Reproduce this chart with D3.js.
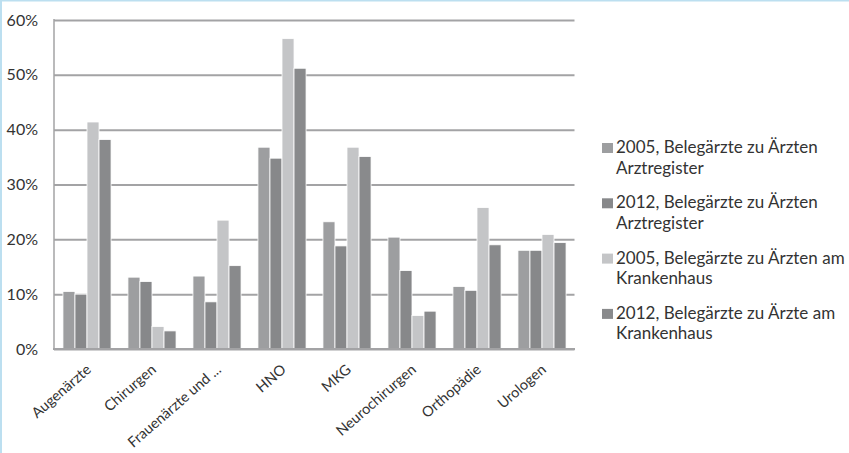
<!DOCTYPE html>
<html><head><meta charset="utf-8">
<script src="https://cdn.jsdelivr.net/npm/d3@7"></script>
<style>
html,body{margin:0;padding:0;background:#fff;}
svg{display:block;}
text{font-family:Lato,"Open Sans",sans-serif;fill:#333;}
</style></head>
<body>
<script>
const categories = ["Augenärzte","Chirurgen","Frauenärzte und ...","HNO","MKG","Neurochirurgen","Orthopädie","Urologen"];
const series = ["2005, Belegärzte zu Ärzten Arztregister","2012, Belegärzte zu Ärzten Arztregister","2005, Belegärzte zu Ärzten am Krankenhaus","2012, Belegärzte zu Ärzte am Krankenhaus"];
const legendLines = [["2005, Belegärzte zu Ärzten","Arztregister"],["2012, Belegärzte zu Ärzten","Arztregister"],["2005, Belegärzte zu Ärzten am","Krankenhaus"],["2012, Belegärzte zu Ärzte am","Krankenhaus"]];
const v2005Register = [10.5,13.1,13.3,36.8,23.2,20.4,11.4,18.0];
const v2012Register = [10.0,12.3,8.6,34.8,18.8,14.3,10.7,18.0];
const v2005Krankenhaus = [41.4,4.1,23.5,56.6,36.8,6.1,25.8,20.9];
const v2012Krankenhaus = [38.2,3.3,15.2,51.2,35.1,6.9,19.0,19.4];
const yTicks = [0,10,20,30,40,50,60];
const colors = ["#9d9ea0","#87888a","#c4c5c7","#898a8c"];

const values = [v2005Register,v2012Register,v2005Krankenhaus,v2012Krankenhaus];
const W=849,H=453;
const FONT="Lato,'Open Sans',sans-serif";
const svg=d3.select("body").append("svg").attr("width",W).attr("height",H);
svg.append("rect").attr("width",W).attr("height",H).attr("fill","#fff");
// frame (top and left light blue)
svg.append("line").attr("x1",0).attr("x2",W).attr("y1",0.75).attr("y2",0.75).attr("stroke","#bcdff0").attr("stroke-width",1.5);
svg.append("line").attr("x1",1).attr("x2",1).attr("y1",0).attr("y2",H).attr("stroke","#bcdff0").attr("stroke-width",2);

const x=d3.scaleBand().domain(categories).range([54.5,574.5]).paddingInner(0.26).paddingOuter(0.13);
const xs=d3.scaleBand().domain(d3.range(4)).range([0,x.bandwidth()]);
const y=d3.scaleLinear().domain([0,60]).range([349,20]);

// gridlines
const yAxis=d3.axisLeft(y).tickValues(yTicks).tickSize(-(574.5-54)).tickFormat(d=>d+"%").tickPadding(16);
const gy=svg.append("g").attr("transform","translate(54,0)").call(yAxis);
gy.select(".domain").remove();
gy.selectAll(".tick line").attr("stroke","#a3a3a5").attr("stroke-width",2);
gy.selectAll(".tick text").attr("font-size",16).attr("fill","#333").style("font-family",FONT);

// bars
categories.forEach((c,i)=>{
  const g=svg.append("g").attr("transform",`translate(${x(c)},0)`);
  g.selectAll("rect").data(values.map((arr,k)=>({k,v:arr[i]}))).join("rect")
    .attr("x",d=>xs(d.k)).attr("width",xs.bandwidth())
    .attr("y",d=>y(d.v)).attr("height",d=>y(0)-y(d.v))
    .attr("fill",d=>colors[d.k]).attr("stroke","#fff").attr("stroke-width",0.8);
});

// axes lines
svg.append("line").attr("x1",54).attr("x2",54).attr("y1",19).attr("y2",350).attr("stroke","#a3a3a5").attr("stroke-width",1.5);
const xAxis=d3.axisBottom(x).tickSize(0).tickPadding(0);
const gx=svg.append("g").attr("transform","translate(0,349)").call(xAxis);
gx.select(".domain").attr("stroke","#a3a3a5").attr("stroke-width",2.2).attr("d","M53,0H575");
gx.selectAll(".tick text").attr("font-size",14.5).attr("fill","#333").style("font-family",FONT)
  .attr("text-anchor","end").attr("dy",0).attr("y",0)
  .attr("transform","translate(5,22) rotate(-41)");

// legend
const lg=svg.append("g");
legendLines.forEach((lines,i)=>{
  const by=153+i*55.3;
  lg.append("rect").attr("x",602).attr("y",by-10).attr("width",11).attr("height",10).attr("fill",colors[i]);
  lines.forEach((t,j)=>{
    lg.append("text").attr("x",616).attr("y",by+j*20.5).attr("font-size",17).style("font-family",FONT).text(t);
  });
});
</script>
</body></html>
